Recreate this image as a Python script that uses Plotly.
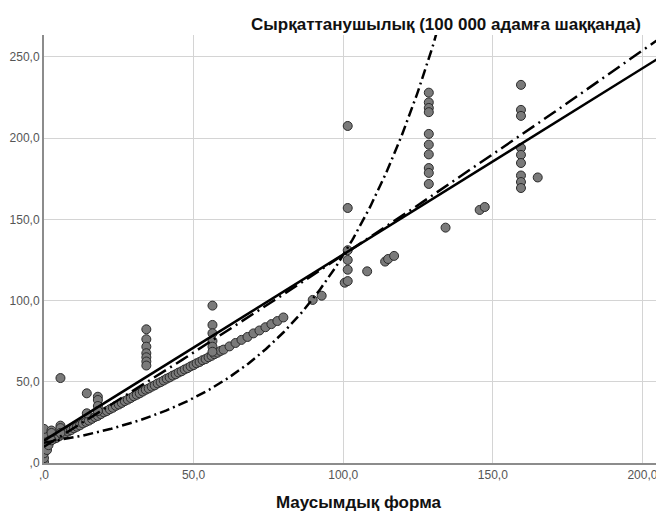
import plotly.graph_objects as go
import numpy as np

# Scatter data (x: Маусымдық форма, y: Сырқаттанушылық)
band_x = [1, 2, 3, 4, 5, 6, 7, 8, 9, 10, 11, 12, 13, 14, 15, 16, 17, 18, 19, 20,
          21, 22, 23, 24, 25, 26, 27, 28, 29, 30, 31, 32, 33, 34, 35, 36, 37, 38, 39, 40,
          41, 42, 43, 44, 45, 46, 47, 48, 49, 50, 51, 52, 53, 54, 55, 56, 57, 58, 59, 60,
          62, 64, 66, 68, 70, 72, 74, 76, 78, 80, 89.8, 92.8]
band_y = [12.5, 13.4, 14.6, 15.3, 16.4, 17.5, 18.3, 19.4, 20.2, 21.4, 22.3, 23.2, 24.4, 25.3, 26.1,
          27.2, 28.3, 29.0, 30.1, 31.2, 32.0, 33.1, 34.0, 35.2, 36.0, 37.0, 38.1, 39.0, 40.0, 41.1,
          42.0, 42.9, 44.0, 45.1, 45.9, 47.0, 47.8, 49.0, 49.8, 50.8, 51.9, 52.7, 53.8, 54.6, 55.7,
          56.5, 57.6, 58.4, 59.5, 60.3, 61.4, 62.2, 63.3, 64.0, 65.1, 66.0, 67.0, 67.9, 69.0, 69.8,
          71.8, 73.9, 75.8, 77.6, 79.8, 81.6, 83.6, 85.5, 87.4, 89.6, 100.4, 103.0]

other_x = [0, 0, 0, 0, 0, 0, 0, 0, 0.5, 1, 1.5, 2.5, 2.5, 2.5, 5.5, 5.5, 5.5, 5.5,
           14.3, 14.3, 18, 18, 18, 18,
           34.2, 34.2, 34.2, 34.2, 34.2, 34.2, 34.2,
           56.3, 56.3, 56.3, 56.3, 56.3, 56.3,
           100.5, 101.5, 101.5, 101.5, 101.5, 101.5, 101.5,
           108, 114, 115, 117,
           128.6, 128.6, 128.6, 128.6, 128.6, 128.6, 128.6, 128.6, 128.6, 128.6,
           134.2, 145.6, 147.3,
           159.4, 159.4, 159.4, 159.4, 159.4, 159.4, 159.4, 159.4, 159.4, 165.0]
other_y = [0.5, 3, 6, 9, 12, 15, 18, 21, 10, 8, 11, 20, 18.5, 14, 23, 21.5, 18.5, 52.3,
           42.9, 30.6, 40.8, 38.8, 35.1, 32.0,
           82.3, 76.2, 71.6, 67.6, 65.1, 62.5, 60.0,
           96.9, 85.0, 79.9, 75.1, 71.6, 68.5,
           111, 112, 119, 125, 131, 157, 207.5,
           118, 124, 125.6, 127.5,
           228, 222, 218.6, 216, 202.6, 196, 190, 181.6, 178.6, 171.8,
           144.9, 155.8, 157.6,
           232.8, 217.4, 213.7, 194, 189.7, 184.7, 177, 173, 169.3, 175.8]

# Curve-fit model parameters
linear_coef = [13.8, 1.146]               # a + b*x
quadratic_coef = [10.0, 1.1405, 0.000395]  # a + b*x + c*x^2
exponential_coef = [12.5, 0.02326]        # A*exp(k*x)

x_ticks = [0, 50, 100, 150, 200]
x_tick_labels = [",0", "50,0", "100,0", "150,0", "200,0"]
y_ticks = [0, 50, 100, 150, 200, 250]
y_tick_labels = [",0", "50,0", "100,0", "150,0", "200,0", "250,0"]

xs = np.linspace(0, 207.2, 300)
lin = linear_coef[0] + linear_coef[1] * xs
quad = quadratic_coef[0] + quadratic_coef[1] * xs + quadratic_coef[2] * xs ** 2
xe = np.linspace(0, 140, 300)
expo = exponential_coef[0] * np.exp(exponential_coef[1] * xe)

marker = dict(size=9, color="#7a7a7a", line=dict(color="#2b2b2b", width=1))

fig = go.Figure()
fig.add_trace(go.Scatter(x=band_x + other_x, y=band_y + other_y, mode="markers",
                         marker=marker, showlegend=False, cliponaxis=True))
fig.add_trace(go.Scatter(x=xs, y=lin, mode="lines",
                         line=dict(color="black", width=2.5), showlegend=False))
fig.add_trace(go.Scatter(x=xs, y=quad, mode="lines",
                         line=dict(color="black", width=2.5, dash="14px,5px,2px,5px"),
                         showlegend=False))
fig.add_trace(go.Scatter(x=xe, y=expo, mode="lines",
                         line=dict(color="black", width=2.5, dash="10px,4px,2px,4px"),
                         showlegend=False))

axis_font = dict(family="Liberation Sans, Arial, sans-serif", size=12, color="#555555")
fig.update_xaxes(range=[0, 207.2], tickvals=x_ticks, ticktext=x_tick_labels,
                 showgrid=True, gridcolor="#d4d4d4", gridwidth=1,
                 showline=True, linecolor="#8c8c8c", linewidth=2,
                 zeroline=False, ticks="", tickfont=axis_font, automargin=False)
fig.update_yaxes(range=[0, 263.5], tickvals=y_ticks, ticktext=y_tick_labels,
                 showgrid=True, gridcolor="#d4d4d4", gridwidth=1,
                 showline=True, linecolor="#8c8c8c", linewidth=2,
                 zeroline=False, ticks="", tickfont=axis_font, automargin=False)

title_font = dict(family="Liberation Sans, Arial, sans-serif", size=17, color="#111111")
fig.update_layout(
    width=656, height=506,
    margin=dict(l=36, r=0, t=27, b=51, autoexpand=False),
    paper_bgcolor="white", plot_bgcolor="white",
    annotations=[
        dict(text="<b>Сырқаттанушылық (100 000 адамға шаққанда)</b>",
             xref="paper", yref="paper", x=0.966, y=1.0, xanchor="right", yanchor="middle",
             yshift=11, showarrow=False, font=title_font),
        dict(text="<b>Маусымдық форма</b>",
             xref="paper", yref="paper", x=0.507, y=0, xanchor="center", yanchor="middle",
             yshift=-39, showarrow=False, font=title_font),
    ],
)
fig.write_html("out.html")
